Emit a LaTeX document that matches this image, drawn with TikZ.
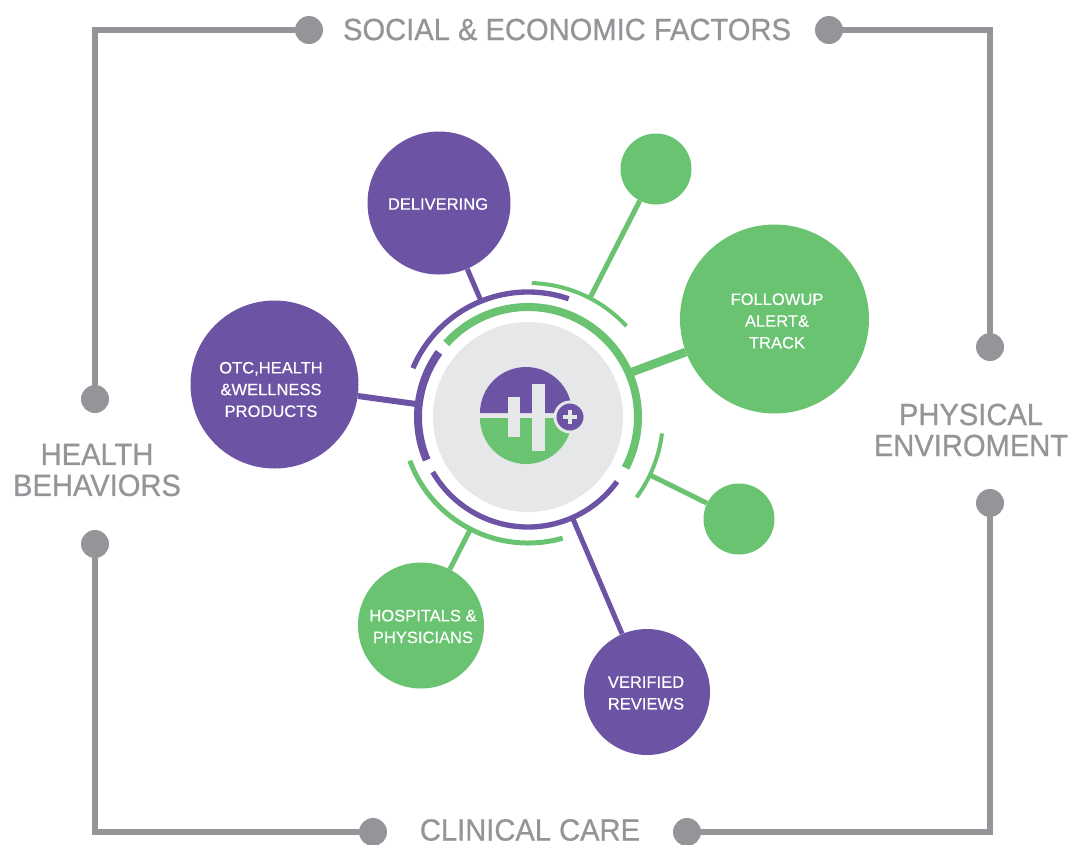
\documentclass[tikz,border=0pt]{standalone}
\usepackage{fontspec}
\setmainfont{Liberation Sans}[FakeBold=0.35]
\newfontface\framefont{Liberation Sans}[FakeBold=0.7,FakeStretch=0.95]
\definecolor{hpurple}{RGB}{108,83,164}
\definecolor{hgreen}{RGB}{105,195,112}
\definecolor{hgray}{RGB}{147,149,152}
\definecolor{hlight}{RGB}{230,231,232}
\tikzset{
    framedot/.style={circle,fill=hgray,inner sep=0pt,minimum size=21pt},
    frameline/.style={draw=hgray,line width=5.2pt},
    framelabel/.style={text=hgray,font=\framefont\fontsize{23}{23.25}\selectfont,align=center,inner sep=0.75pt},
    purpledisc/.style={circle,fill=hpurple,inner sep=0pt},
    greendisc/.style={circle,fill=hgreen,inner sep=0pt},
    disctext/.style={text=white,align=center,inner sep=0.75pt,font=\fontsize{12.4}{16.3}\selectfont},
}
\begin{document}
\begin{tikzpicture}[x=0.75pt,y=0.75pt,yscale=-1,xscale=1]
    \useasboundingbox (0,0) rectangle (1082,844);

    % Frame
    \node [framedot] (dotTopL) at (309,30) {};
    \node [framedot] (dotTopR) at (829,30) {};
    \node [framedot] (dotRightU) at (990,347) {};
    \node [framedot] (dotRightD) at (990,503) {};
    \node [framedot] (dotBotR) at (687,832) {};
    \node [framedot] (dotBotL) at (373,832) {};
    \node [framedot] (dotLeftD) at (95,544) {};
    \node [framedot] (dotLeftU) at (95,399) {};
    \draw [frameline] (dotLeftU) |- (dotTopL);
    \draw [frameline] (dotTopR) -| (dotRightU);
    \draw [frameline] (dotRightD) |- (dotBotR);
    \draw [frameline] (dotBotL) -| (dotLeftD);

    % Text Node
    \node [framelabel] (social) at (567,29.5) {SOCIAL \& ECONOMIC FACTORS};
    \node [framelabel] (clinical) at (530,830) {CLINICAL CARE};
    \node [framelabel] (health) at (97,470) {HEALTH\\BEHAVIORS};
    \node [framelabel] (physical) at (971,430) {PHYSICAL\\ENVIROMENT};

    % Center
    \node [circle,fill=hlight,inner sep=0pt,minimum size=142.5pt] (hub) at (528,417) {};
    \coordinate (endDeliver) at (481,301);
    \coordinate (endTop) at (590,298);
    \coordinate (endFollow) at (632,372);
    \coordinate (endRight) at (650,475);
    \coordinate (endReview) at (573,519);
    \coordinate (endHospital) at (470,530);
    \coordinate (endOtc) at (416,404);

    % Spokes and discs
    \node [purpledisc,minimum size=107.25pt] (deliver) at (439,203) {};
    \node [greendisc,minimum size=53.25pt] (top) at (656,169) {};
    \node [greendisc,minimum size=141.75pt] (follow) at (774.5,319) {};
    \node [greendisc,minimum size=53.25pt] (right) at (739,519) {};
    \node [purpledisc,minimum size=94.5pt] (review) at (647,692) {};
    \node [greendisc,minimum size=94.5pt] (hospital) at (421,625.5) {};
    \node [purpledisc,minimum size=126pt] (otc) at (274.5,384.5) {};
    \draw [hpurple,line width=3.75pt] (deliver) -- (endDeliver);
    \draw [hgreen,line width=3.75pt] (top) -- (endTop);
    \draw [hgreen,line width=6.5pt] (follow) -- (endFollow);
    \draw [hgreen,line width=3.75pt] (right) -- (endRight);
    \draw [hpurple,line width=3.75pt] (review) -- (endReview);
    \draw [hgreen,line width=3.75pt] (hospital) -- (endHospital);
    \draw [hpurple,line width=4.5pt] (otc) -- (endOtc);

    % Disc labels
    \node [disctext] (deliverText) at (438,204) {DELIVERING};
    \node [disctext] (followText) at (777,321) {FOLLOWUP\\ALERT\&\\TRACK};
    \node [disctext] (reviewText) at (646,693) {VERIFIED\\REVIEWS};
    \node [disctext] (hospitalText) at (423,626.5) {HOSPITALS \&\\PHYSICIANS};
    \node [disctext] (otcText) at (271,389.5) {OTC,HEALTH\\\&WELLNESS\\PRODUCTS};

    % Rings
    \draw [hpurple,line width=4pt] (528,417) ++(-157:125) arc[start angle=-157,end angle=-71,radius=125];
    \draw [hgreen,line width=6pt] (528,417) ++(-138:110) arc[start angle=-138,end angle=27.5,radius=110];
    \draw [hpurple,line width=6pt] (528,417) ++(-144:110) arc[start angle=-144,end angle=-203,radius=110];
    \draw [hpurple,line width=4pt] (528,417) ++(-210:110) arc[start angle=-210,end angle=-324,radius=110];
    \draw [hgreen,line width=3pt] (528,417) ++(-88.4:134) arc[start angle=-88.4,end angle=-42.7,radius=134];
    \draw [hgreen,line width=3pt] (528,417) ++(7:135) arc[start angle=7,end angle=36.5,radius=135];
    \draw [hgreen,line width=3.75pt] (528,417) ++(-200.3:126) arc[start angle=-200.3,end angle=-286,radius=126];

    % Logo
    \fill [hpurple] (480,413) arc[start angle=180,end angle=360,radius=46] -- cycle;
    \fill [hgreen] (480,418) arc[start angle=180,end angle=0,radius=46] -- cycle;
    \fill [hlight] (508,397) rectangle (520,437);
    \fill [hlight] (532,384) rectangle (545,451);
    \node [circle,fill=hpurple,draw=hlight,line width=2.2pt,inner sep=0pt,minimum size=22.5pt] (plus) at (570,417) {};
    \draw [hlight,line width=3pt] (570,410) -- (570,424) (563,417) -- (577,417);
\end{tikzpicture}
\end{document}
